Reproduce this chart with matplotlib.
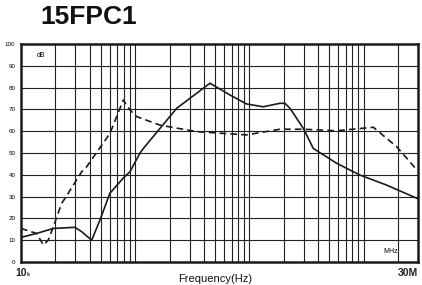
import matplotlib
matplotlib.use("Agg")
import matplotlib.pyplot as plt
import numpy as np

title = "15FPC1"
y_ticks = [0, 10, 20, 30, 40, 50, 60, 70, 80, 90, 100]
y_tick_labels = [str(v) for v in y_ticks]

solid_f = [10e3, 13.7e3, 19.2e3, 29.7e3, 34e3, 41.6e3, 49.2e3, 60e3, 78.7e3, 90e3, 110e3, 118e3,
           231e3, 452e3, 677e3, 946e3, 1.32e6, 1.85e6, 2.05e6, 2.27e6, 2.97e6, 3.63e6, 5.81e6,
           9.29e6, 15.9e6, 30e6]
solid_db = [11.3, 13.1, 15.4, 15.9, 13.9, 10.0, 19.3, 31.5, 38.5, 41.4, 49.9, 52.1,
            70.5, 82.0, 76.6, 72.5, 71.2, 72.8, 72.8, 70.5, 61.3, 52.1, 45.3,
            39.9, 35.3, 29.0]

dash_f = [10e3, 13.7e3, 15.7e3, 17.3e3, 19.2e3, 22.7e3, 25.9e3, 34e3, 37.6e3, 60.1e3, 78.7e3,
          90e3, 103e3, 165e3, 238e3, 346e3, 946e3, 1.85e6, 2.97e6, 5.81e6, 12.2e6, 19.5e6, 28.5e6]
dash_db = [15.4, 13.1, 7.8, 10.0, 16.2, 26.9, 31.5, 41.4, 43.7, 59.0, 74.3,
           69.7, 66.7, 62.8, 61.3, 59.8, 58.3, 60.9, 60.9, 60.2, 61.8, 52.9, 43.0]

fig = plt.figure(figsize=(4.22, 2.85), dpi=100)
ax = fig.add_axes([21/422, 1 - 262/285, 397/422, 218/285])
ax.set_xscale("log")
ax.set_xlim(10e3, 30e6)
ax.set_ylim(0, 100)

ax.plot(solid_f, solid_db, color="#1a1a1a", lw=1.2, solid_joinstyle="round")
ax.plot(dash_f, dash_db, color="#1a1a1a", lw=1.2, ls=(0, (4, 2.5)))

# grid
minor = []
for dec in [1e4, 1e5, 1e6, 1e7]:
    for m in range(1, 10):
        v = dec * m
        if 10e3 < v < 30e6:
            minor.append(v)
for v in minor:
    ax.axvline(v, color="#222222", lw=0.8, zorder=0)
for v in y_ticks[1:-1]:
    ax.axhline(v, color="#222222", lw=0.8, zorder=0)

for s in ax.spines.values():
    s.set_linewidth(1.8)
    s.set_color("#1a1a1a")

ax.set_xticks([])
ax.minorticks_off()
ax.set_xticks([], minor=True)
ax.set_yticks(y_ticks)
ax.set_yticklabels(y_tick_labels, fontsize=4.5, family="Liberation Sans")
ax.tick_params(axis="y", length=0, pad=4)

fig.text(40/422, 1 - 17/285, title, fontsize=19, fontweight="bold",
         family="Liberation Sans", va="center", ha="left", color="#111111")
ax.text(0.04, 0.965, "dB", transform=ax.transAxes, fontsize=5, va="top", ha="left",
        family="Liberation Sans")
ax.text(0.93, 0.03, "MHz", transform=ax.transAxes, fontsize=5, va="bottom", ha="center",
        family="Liberation Sans")
fig.text(15/422, 1 - 273/285, "10", fontsize=7.5, fontweight="bold", family="Liberation Sans",
         va="center", ha="left", color="#222222")
fig.text(27/422, 1 - 274.5/285, "k", fontsize=4, fontweight="bold", family="Liberation Sans",
         va="center", ha="left", color="#222222")
fig.text(418/422, 1 - 273/285, "30M", fontsize=7.5, fontweight="bold", family="Liberation Sans",
         va="center", ha="right", color="#222222")
fig.text(215/422, 1 - 279.5/285, "Frequency(Hz)", fontsize=8, family="Liberation Sans",
         va="center", ha="center", color="#111111")

fig.savefig("out.png", dpi=100)
